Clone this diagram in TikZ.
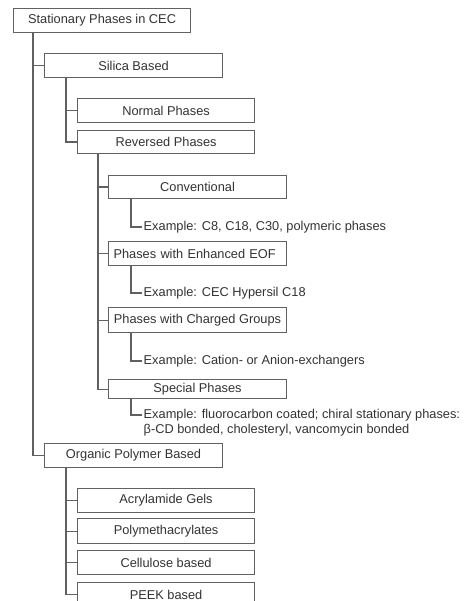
\documentclass[tikz,border=0pt]{standalone}
\usepackage{fontspec}
\setmainfont{Liberation Sans}
\begin{document}
\begin{tikzpicture}[x=1pt,y=-1pt,
  box/.style={draw=black!62, line width=1.1pt, anchor=north west, inner sep=2pt,
              text=black!80, font=\fontsize{12.8}{15}\selectfont, minimum height=24pt},
  exmp/.style={anchor=west, inner xsep=1.5pt, inner ysep=1pt, text=black!80,
               font=\fontsize{12.8}{15}\selectfont},
  conn/.style={draw=black!62, line width=1.1pt}]
\clip (0,0) rectangle (465,601);
\fill[white] (0,0) rectangle (465,601);
% boxes
\node[box, minimum width=177pt] (root) at (13,8) {Stationary Phases in CEC};
\node[box, minimum width=178pt] (silica) at (44,53) {Silica Based};
\node[box, minimum width=177pt] (normal) at (77,98) {Normal Phases};
\node[box, minimum width=177pt, minimum height=23pt] (reversed) at (77,130) {Reversed Phases};
\node[box, minimum width=178pt, minimum height=23pt] (conv) at (108,175) {Conventional};
\node[box, text width=168pt, inner xsep=5pt, align=left] (eof) at (108,241) {Phases with Enhanced EOF};
\node[box, minimum width=178pt, minimum height=25pt] (charged) at (108,307) {Phases with Charged Groups};
\node[box, minimum width=178pt, minimum height=19pt] (special) at (108,379) {Special Phases};
\node[box, minimum width=178pt] (organic) at (44,443) {Organic Polymer Based};
\node[box, minimum width=177pt] (acryl) at (77,488) {Acrylamide Gels};
\node[box, minimum width=177pt, minimum height=25pt] (poly) at (77,518) {Polymethacrylates};
\node[box, minimum width=177pt] (cell) at (77,550) {Cellulose based};
\node[box, minimum width=177pt] (peek) at (77,582) {PEEK based};
% examples
\node[exmp] (ex1) at (142,227) {Example: C8, C18, C30, polymeric phases};
\node[exmp] (ex2) at (142,293) {Example: CEC Hypersil C18};
\node[exmp] (ex3) at (142,361) {Example: Cation- or Anion-exchangers};
\node[exmp] (ex4) at (142,415) {Example: fluorocarbon coated; chiral stationary phases:};
\node[exmp] (ex4b) at (142,430) {β-CD bonded, cholesteryl, vancomycin bonded};
% connectors
\draw[conn] ([xshift=20pt]root.south west) |- (silica.west);
\draw[conn] ([xshift=20pt]root.south west) |- (organic.west);
\draw[conn] ([xshift=22pt]silica.south west) |- (normal.west);
\draw[conn] ([xshift=22pt]silica.south west) |- (reversed.west);
\draw[conn] ([xshift=21pt]reversed.south west) |- (conv.west);
\draw[conn] ([xshift=21pt]reversed.south west) |- (eof.west);
\draw[conn] ([xshift=21pt]reversed.south west) |- (charged.west);
\draw[conn] ([xshift=21pt]reversed.south west) |- (special.west);
\draw[conn] ([xshift=23pt]conv.south west) |- (ex1.west);
\draw[conn] ([xshift=23pt]eof.south west) |- (ex2.west);
\draw[conn] ([xshift=23pt]charged.south west) |- (ex3.west);
\draw[conn] ([xshift=23pt]special.south west) |- (ex4.west);
\draw[conn] ([xshift=22pt]organic.south west) |- (acryl.west);
\draw[conn] ([xshift=22pt]organic.south west) |- (poly.west);
\draw[conn] ([xshift=22pt]organic.south west) |- (cell.west);
\draw[conn] ([xshift=22pt]organic.south west) |- (peek.west);
\end{tikzpicture}
\end{document}
